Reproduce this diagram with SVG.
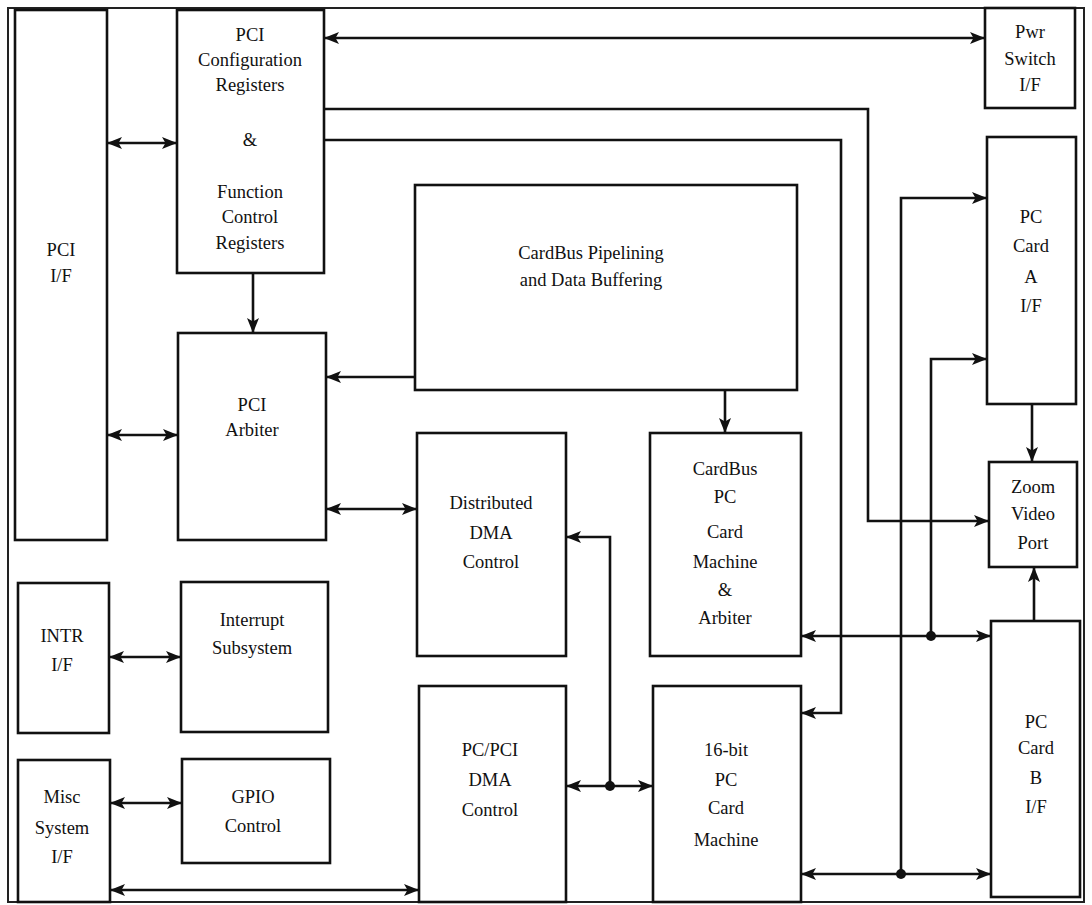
<svg xmlns="http://www.w3.org/2000/svg" width="1092" height="905" viewBox="0 0 1092 905">
<style>
.box{fill:#fff;stroke:#111;stroke-width:2.6}
.frame{fill:none;stroke:#222;stroke-width:2}
.ln{fill:none;stroke:#111;stroke-width:2.6}
.t{font-family:"Liberation Serif","Times New Roman",serif;font-size:18.5px;fill:#111;text-anchor:middle}
</style>
<defs>
<marker id="ah" viewBox="0 0 15 12" refX="15" refY="6" markerWidth="15" markerHeight="12" orient="auto-start-reverse" markerUnits="userSpaceOnUse">
<path d="M0,0 L15,6 L0,12 L3.5,6 Z" fill="#111"/>
</marker>
</defs>
<rect width="1092" height="905" fill="#fff"/>
<rect class="frame" x="8" y="8" width="1076" height="894"/>

<g id="connectors">
<line class="ln" x1="107" y1="143" x2="177" y2="143" marker-start="url(#ah)" marker-end="url(#ah)"/>
<line class="ln" x1="324" y1="38" x2="985" y2="38" marker-start="url(#ah)" marker-end="url(#ah)"/>
<polyline class="ln" points="324,109 868,109 868,521 989,521" marker-end="url(#ah)"/>
<polyline class="ln" points="324,140 841,140 841,713 801,713" marker-end="url(#ah)"/>
<line class="ln" x1="253" y1="273" x2="253" y2="333" marker-end="url(#ah)"/>
<line class="ln" x1="415" y1="377" x2="326" y2="377" marker-end="url(#ah)"/>
<line class="ln" x1="725" y1="390" x2="725" y2="433" marker-end="url(#ah)"/>
<line class="ln" x1="107" y1="435" x2="178" y2="435" marker-start="url(#ah)" marker-end="url(#ah)"/>
<line class="ln" x1="326" y1="509" x2="417" y2="509" marker-start="url(#ah)" marker-end="url(#ah)"/>
<polyline class="ln" points="610,786 610,537 566,537" marker-end="url(#ah)"/>
<line class="ln" x1="566" y1="786" x2="653" y2="786" marker-start="url(#ah)" marker-end="url(#ah)"/>
<circle cx="610" cy="786" r="5" fill="#111"/>
<line class="ln" x1="801" y1="636" x2="991" y2="636" marker-start="url(#ah)" marker-end="url(#ah)"/>
<polyline class="ln" points="931,636 931,359 987,359" marker-end="url(#ah)"/>
<circle cx="931" cy="636" r="5" fill="#111"/>
<line class="ln" x1="801" y1="874" x2="991" y2="874" marker-start="url(#ah)" marker-end="url(#ah)"/>
<polyline class="ln" points="901,874 901,198 987,198" marker-end="url(#ah)"/>
<circle cx="901" cy="874" r="5" fill="#111"/>
<line class="ln" x1="1032" y1="404" x2="1032" y2="462" marker-end="url(#ah)"/>
<line class="ln" x1="1034" y1="621" x2="1034" y2="567" marker-end="url(#ah)"/>
<line class="ln" x1="110" y1="890" x2="419" y2="890" marker-start="url(#ah)" marker-end="url(#ah)"/>
<line class="ln" x1="109" y1="657" x2="181" y2="657" marker-start="url(#ah)" marker-end="url(#ah)"/>
<line class="ln" x1="110" y1="803" x2="182" y2="803" marker-start="url(#ah)" marker-end="url(#ah)"/>
</g>

<g id="pci-if"><rect class="box" x="15" y="10" width="92" height="530"/>
<text class="t" x="61" y="256">PCI</text><text class="t" x="61" y="282">I/F</text></g>

<g id="pci-config"><rect class="box" x="177" y="10" width="147" height="263"/>
<text class="t" x="250" y="41">PCI</text>
<text class="t" x="250" y="66">Configuration</text>
<text class="t" x="250" y="91">Registers</text>
<text class="t" x="250" y="146">&amp;</text>
<text class="t" x="250" y="198">Function</text>
<text class="t" x="250" y="223">Control</text>
<text class="t" x="250" y="249">Registers</text></g>

<g id="pwr-switch"><rect class="box" x="985" y="8" width="90" height="100"/>
<text class="t" x="1030" y="38">Pwr</text><text class="t" x="1030" y="65">Switch</text><text class="t" x="1030" y="91">I/F</text></g>

<g id="pc-card-a"><rect class="box" x="987" y="137" width="89" height="267"/>
<text class="t" x="1031" y="223">PC</text><text class="t" x="1031" y="252">Card</text><text class="t" x="1031" y="283">A</text><text class="t" x="1031" y="312">I/F</text></g>

<g id="zoom-video"><rect class="box" x="989" y="462" width="88" height="105"/>
<text class="t" x="1033" y="493">Zoom</text><text class="t" x="1033" y="520">Video</text><text class="t" x="1033" y="549">Port</text></g>

<g id="pc-card-b"><rect class="box" x="991" y="621" width="89" height="276"/>
<text class="t" x="1036" y="728">PC</text><text class="t" x="1036" y="754">Card</text><text class="t" x="1036" y="784">B</text><text class="t" x="1036" y="813">I/F</text></g>

<g id="cardbus-pipelining"><rect class="box" x="415" y="185" width="382" height="205"/>
<text class="t" x="591" y="259">CardBus Pipelining</text><text class="t" x="591" y="286">and Data Buffering</text></g>

<g id="pci-arbiter"><rect class="box" x="178" y="333" width="148" height="207"/>
<text class="t" x="252" y="411">PCI</text><text class="t" x="252" y="436">Arbiter</text></g>

<g id="distributed-dma"><rect class="box" x="417" y="433" width="149" height="223"/>
<text class="t" x="491" y="509">Distributed</text><text class="t" x="491" y="539">DMA</text><text class="t" x="491" y="568">Control</text></g>

<g id="cardbus-machine"><rect class="box" x="650" y="433" width="151" height="223"/>
<text class="t" x="725" y="475">CardBus</text><text class="t" x="725" y="503">PC</text><text class="t" x="725" y="538">Card</text><text class="t" x="725" y="568">Machine</text><text class="t" x="725" y="596">&amp;</text><text class="t" x="725" y="624">Arbiter</text></g>

<g id="interrupt"><rect class="box" x="181" y="582" width="147" height="150"/>
<text class="t" x="252" y="626">Interrupt</text><text class="t" x="252" y="654">Subsystem</text></g>

<g id="intr-if"><rect class="box" x="18" y="583" width="91" height="150"/>
<text class="t" x="62" y="642">INTR</text><text class="t" x="62" y="671">I/F</text></g>

<g id="gpio"><rect class="box" x="182" y="759" width="148" height="104"/>
<text class="t" x="253" y="803">GPIO</text><text class="t" x="253" y="832">Control</text></g>

<g id="misc-if"><rect class="box" x="18" y="760" width="92" height="142"/>
<text class="t" x="62" y="803">Misc</text><text class="t" x="62" y="834">System</text><text class="t" x="62" y="863">I/F</text></g>

<g id="pcpci-dma"><rect class="box" x="419" y="686" width="147" height="216"/>
<text class="t" x="490" y="756">PC/PCI</text><text class="t" x="490" y="786">DMA</text><text class="t" x="490" y="816">Control</text></g>

<g id="pc16-machine"><rect class="box" x="653" y="686" width="148" height="216"/>
<text class="t" x="726" y="756">16-bit</text><text class="t" x="726" y="786">PC</text><text class="t" x="726" y="814">Card</text><text class="t" x="726" y="846">Machine</text></g>
</svg>
